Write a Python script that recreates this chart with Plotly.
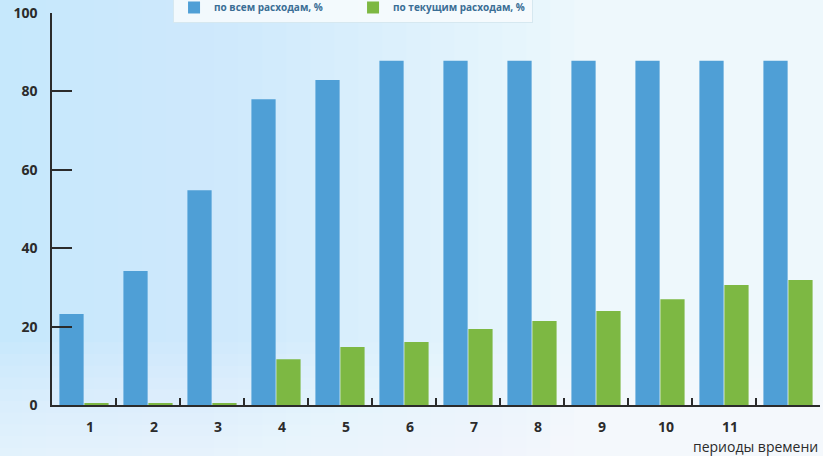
import plotly.graph_objects as go

periods = ["1", "2", "3", "4", "5", "6", "7", "8", "9", "10", "11", " "]
blue_values = [23.2, 34.2, 54.8, 78.0, 82.9, 87.8, 87.8, 87.8, 87.8, 87.8, 87.8, 87.8]
green_values = [0.3, 0.3, 0.3, 11.7, 14.8, 16.1, 19.4, 21.4, 24.0, 27.0, 30.6, 31.9]
blue_name = "по всем расходам, %"
green_name = "по текущим расходам, %"
y_ticks = [0, 20, 40, 60, 80, 100]
x_title = "периоды времени"

BLUE = "#4f9fd6"
GREEN = "#7db843"
DARK = "#2b2b2b"

fig = go.Figure()
fig.add_trace(go.Bar(x=periods, y=blue_values, name=blue_name,
                     marker=dict(color=BLUE, line=dict(width=0))))
fig.add_trace(go.Bar(x=periods, y=green_values, name=green_name,
                     marker=dict(color=GREEN, line=dict(width=0))))

# soft background gradient (left side more blue), built from many thin layers
shapes = []
n = 24
for i in range(n):
    x1 = -0.07 + (i + 1) * (0.75 / n)
    shapes.append(dict(type="rect", xref="paper", yref="paper", x0=-0.07, x1=x1,
                       y0=-0.14, y1=1.04, fillcolor="rgba(175,222,245,0.045)",
                       line=dict(width=0), layer="below"))
m = 10
for j in range(m):
    y1 = -0.14 + (j + 1) * (0.3 / m)
    shapes.append(dict(type="rect", xref="paper", yref="paper", x0=-0.07, x1=1.01,
                       y0=-0.14, y1=y1, fillcolor="rgba(255,255,255,0.08)",
                       line=dict(width=0), layer="below"))

fig.update_layout(
    width=823, height=456,
    margin=dict(l=52, r=3, t=13, b=51, autoexpand=False),
    paper_bgcolor="#eef8fc",
    plot_bgcolor="rgba(0,0,0,0)",
    barmode="group",
    bargap=0.22,
    bargroupgap=0.03,
    font=dict(family="Open Sans", color=DARK),
    shapes=shapes,
    showlegend=True,
    legend=dict(orientation="h", x=0.1576, xanchor="left", y=1.0536, yanchor="top",
                bgcolor="rgba(246,251,253,0.9)", bordercolor="#d6e8f0", borderwidth=1,
                entrywidth=134, entrywidthmode="pixels",
                itemwidth=30,
                font=dict(size=10, color="#3a6e95", family="Open Sans", weight="bold"),
                traceorder="normal"),
    annotations=[dict(text=x_title, xref="paper", yref="paper", x=1.0, y=-0.107,
                      xanchor="right", yanchor="middle", showarrow=False,
                      font=dict(size=14, color=DARK, family="Open Sans"))],
)

fig.update_xaxes(
    type="category",
    showline=True, linecolor=DARK, linewidth=1.5,
    ticks="inside", tickson="boundaries", ticklen=7, tickcolor=DARK, tickwidth=1.5,
    tickfont=dict(size=14, color=DARK, family="Open Sans", weight="bold"),
    ticklabelshift=6, ticklabelstandoff=8,
    showgrid=False, zeroline=False,
)
fig.update_yaxes(
    range=[0, 100], tickvals=y_ticks,
    showline=True, linecolor=DARK, linewidth=1.5,
    ticks="inside", ticklen=20, tickcolor=DARK, tickwidth=1.5,
    tickfont=dict(size=14, color=DARK, family="Open Sans", weight="bold"),
    ticklabelstandoff=10,
    showgrid=False, zeroline=False,
)

fig.write_html("out.html")
